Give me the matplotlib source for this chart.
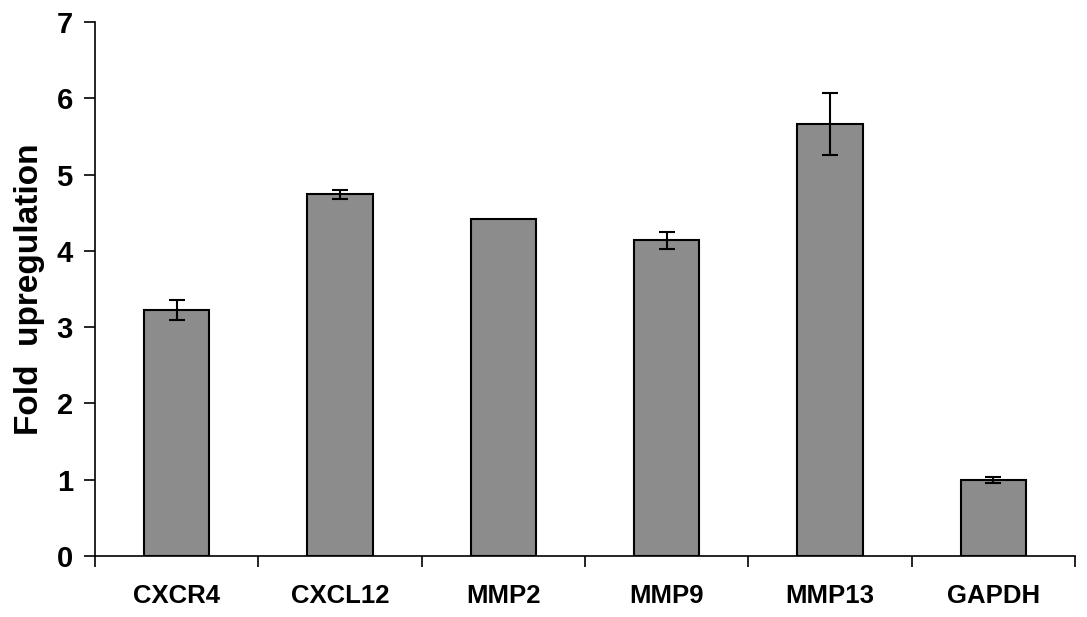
import matplotlib
matplotlib.use("Agg")
import matplotlib.pyplot as plt
import numpy as np

categories = ["CXCR4", "CXCL12", "MMP2", "MMP9", "MMP13", "GAPDH"]
values = [3.22, 4.74, 4.42, 4.14, 5.66, 1.00]
errors = [0.13, 0.06, 0.0, 0.11, 0.41, 0.04]
yticks = [0, 1, 2, 3, 4, 5, 6, 7]

plt.rcParams['font.family'] = ['Liberation Sans', 'DejaVu Sans']
plt.rcParams['font.weight'] = 'bold'

fig = plt.figure(figsize=(10.87, 6.17), dpi=100)
ax = fig.add_axes([0.0874, 0.0989, 0.9016, 0.8655])

x = np.arange(len(categories))
ax.bar(x, values, width=0.4, color='#8c8c8c', edgecolor='black', linewidth=1.5, zorder=2)
ax.errorbar(x, values, yerr=[e if e > 0 else np.nan for e in errors], fmt='none',
            ecolor='black', elinewidth=1.5, capsize=6, capthick=1.5, zorder=3)

ax.set_xlim(-0.5, len(categories) - 0.5)
ax.set_ylim(0, 7)
ax.set_yticks(yticks)
ax.set_yticklabels([str(t) for t in yticks], fontsize=21, fontweight='bold')
ax.set_xticks(x)
ax.set_xticklabels(categories, fontsize=18.5, fontweight='bold')
ax.tick_params(axis='x', which='major', length=0, pad=20)
ax.set_xticks(np.arange(-0.5, len(categories)), minor=True)
ax.tick_params(axis='x', which='minor', length=8, width=1.2, direction='out')
ax.tick_params(axis='y', which='major', length=8, width=1.2, direction='out', pad=8)

for s in ['top', 'right']:
    ax.spines[s].set_visible(False)
for s in ['left', 'bottom']:
    ax.spines[s].set_linewidth(1.2)

ax.set_ylabel("Fold  upregulation", fontsize=24, fontweight='bold', labelpad=8)

fig.savefig("out.png", dpi=100)
